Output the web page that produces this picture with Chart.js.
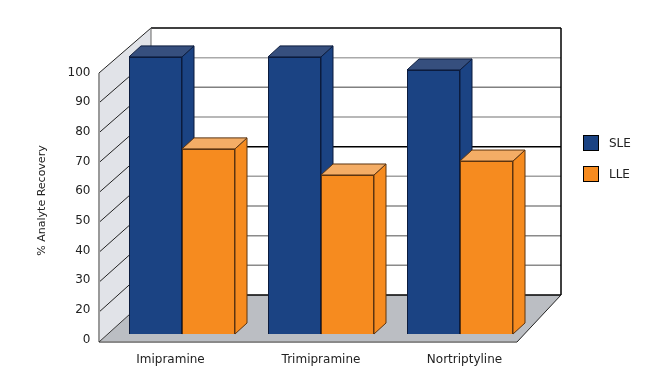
<!DOCTYPE html>
<html lang="en">
<head>
    <meta charset="UTF-8">
    <title>% Analyte Recovery</title>
    <script src="https://cdn.jsdelivr.net/npm/chart.js"></script>
    <style>
        body { margin: 0; padding: 0; background-color: #fff; }
        canvas { display: block; }
    </style>
</head>
<body>
    <canvas id="recoveryChart" width="661" height="385"></canvas>

    <script>
        const categories = ['Imipramine', 'Trimipramine', 'Nortriptyline'];
        const sleValues = [103.4, 103.4, 99];
        const lleValues = [72.4, 63.6, 68.3];
        // the source axis has no 10 tick: its "0" sits one step below 20
        const tickLabels = ['0', '20', '30', '40', '50', '60', '70', '80', '90', '100'];
        const axisMin = 10;
        const axisMax = 100;

        const fontName = '"DejaVu Sans", Verdana, sans-serif';
        const backLineColors = ['#000', '#8a8a8a', '#8a8a8a', '#8a8a8a', '#a0a0a0', '#000', '#a0a0a0', '#808080', '#aaa', '#000'];
        // category labels are not centred under the bars in the source
        const labelShift = [-11.5, 0, 4.5];

        function polygon(ctx, pts, fill, stroke) {
            ctx.beginPath();
            ctx.moveTo(pts[0][0], pts[0][1]);
            for (let i = 1; i < pts.length; i++) ctx.lineTo(pts[i][0], pts[i][1]);
            ctx.closePath();
            ctx.fillStyle = fill;
            ctx.fill();
            if (stroke) {
                ctx.strokeStyle = stroke;
                ctx.lineWidth = 1;
                ctx.stroke();
            }
        }

        function line(ctx, x1, y1, x2, y2, color, width) {
            ctx.beginPath();
            ctx.moveTo(x1, y1);
            ctx.lineTo(x2, y2);
            ctx.strokeStyle = color;
            ctx.lineWidth = width;
            ctx.stroke();
        }

        // walls, floor and the depth faces of the bars
        const box3d = {
            id: 'box3d',
            beforeDatasetsDraw(chart) {
                const ctx = chart.ctx;
                const y = chart.scales.y;
                const base = y.getPixelForValue(axisMin);
                const top = y.getPixelForValue(axisMax);
                const frontL = 99, frontR = 517, backL = 151, backR = 561;
                const backDy = 39, frontDy = 8;

                ctx.save();
                polygon(ctx, [[backL, top - backDy], [backR, top - backDy], [backR, base - backDy], [backL, base - backDy]], '#fff');
                polygon(ctx, [[frontL, top + frontDy - 2], [backL, top - backDy], [backL, base - backDy], [frontL, base + frontDy]], '#e1e3e8');
                polygon(ctx, [[frontL, base + frontDy], [backL, base - backDy], [backR, base - backDy], [frontR, base + frontDy]], '#bbbec3');

                y.ticks.forEach((t, i) => {
                    const py = y.getPixelForTick(i);
                    const frontY = py + frontDy - (i / (y.ticks.length - 1)) * 2;
                    line(ctx, backL, py - backDy, backR, py - backDy, backLineColors[i], 1.5);
                    if (i > 0) line(ctx, frontL, frontY, backL, py - backDy, '#222', 1);
                });

                line(ctx, backL, top - backDy, backL, base - backDy, '#666', 1);
                line(ctx, backR, top - backDy, backR, base - backDy, '#000', 1.5);
                line(ctx, frontL, top + frontDy - 2, frontL, base + frontDy, '#999', 2);
                line(ctx, frontL, base + frontDy, frontR, base + frontDy, '#8a8a8a', 2);
                line(ctx, frontR, base + frontDy, backR, base - backDy, '#222', 1);
                line(ctx, frontL, base + frontDy, backL, base - backDy, '#333', 1);

                const dx = 12, dy = 11;
                chart.data.datasets.forEach((ds, d) => {
                    chart.getDatasetMeta(d).data.forEach(bar => {
                        const left = bar.x - bar.width / 2;
                        const right = bar.x + bar.width / 2;
                        polygon(ctx, [[right, bar.y], [right + dx, bar.y - dy], [right + dx, bar.base - dy], [right, bar.base]], ds.backgroundColor, ds.borderColor);
                        polygon(ctx, [[left, bar.y], [left + dx, bar.y - dy], [right + dx, bar.y - dy], [right, bar.y]], ds.topColor, ds.borderColor);
                    });
                });
                ctx.restore();
            },
            afterDraw(chart) {
                const ctx = chart.ctx;
                ctx.save();
                ctx.font = '12px ' + fontName;
                ctx.textBaseline = 'middle';

                // category labels
                ctx.fillStyle = '#222';
                ctx.textAlign = 'center';
                chart.data.labels.forEach((label, i) => {
                    ctx.fillText(label, chart.scales.x.getPixelForValue(i) + labelShift[i], 360);
                });

                // legend
                ctx.textAlign = 'left';
                chart.data.datasets.forEach((ds, d) => {
                    const boxY = 135.5 + d * 31;
                    ctx.fillStyle = ds.backgroundColor;
                    ctx.fillRect(583.5, boxY, 15, 15);
                    ctx.strokeStyle = '#000';
                    ctx.lineWidth = 1;
                    ctx.strokeRect(583.5, boxY, 15, 15);
                    ctx.fillStyle = '#222';
                    ctx.fillText(ds.label, 609, boxY + 8);
                });
                ctx.restore();
            }
        };

        new Chart(document.getElementById('recoveryChart').getContext('2d'), {
            type: 'bar',
            data: {
                labels: categories,
                datasets: [
                    { label: 'SLE', data: sleValues, base: axisMin, backgroundColor: '#1b4383', topColor: '#364f7e', borderColor: '#0b1b3d', borderWidth: 1, clip: false },
                    { label: 'LLE', data: lleValues, base: axisMin, backgroundColor: '#f68b1f', topColor: '#f4ad66', borderColor: '#5c3410', borderWidth: 1, clip: false }
                ]
            },
            options: {
                responsive: false,
                animation: false,
                layout: { padding: { top: 67, right: 131.5, left: 0, bottom: 0 } },
                datasets: { bar: { categoryPercentage: 106 / 139, barPercentage: 1 } },
                plugins: { legend: { display: false }, tooltip: { enabled: false } },
                scales: {
                    x: {
                        grid: { display: false, drawTicks: false },
                        border: { display: false },
                        afterFit(scale) { scale.height = 51; },
                        ticks: { display: false }
                    },
                    y: {
                        min: axisMin,
                        max: axisMax,
                        grid: { display: false, drawTicks: false },
                        border: { display: false },
                        afterFit(scale) { scale.width = 112.5; },
                        title: { display: true, text: '% Analyte Recovery', color: '#222', padding: { top: 36, bottom: 0 }, font: { family: fontName, size: 11 } },
                        ticks: {
                            stepSize: 10,
                            padding: 22,
                            labelOffset: 5.5,
                            color: '#222',
                            font: { family: fontName, size: 12 },
                            callback: (value, index) => tickLabels[index]
                        }
                    }
                }
            },
            plugins: [box3d]
        });
    </script>
</body>
</html>
